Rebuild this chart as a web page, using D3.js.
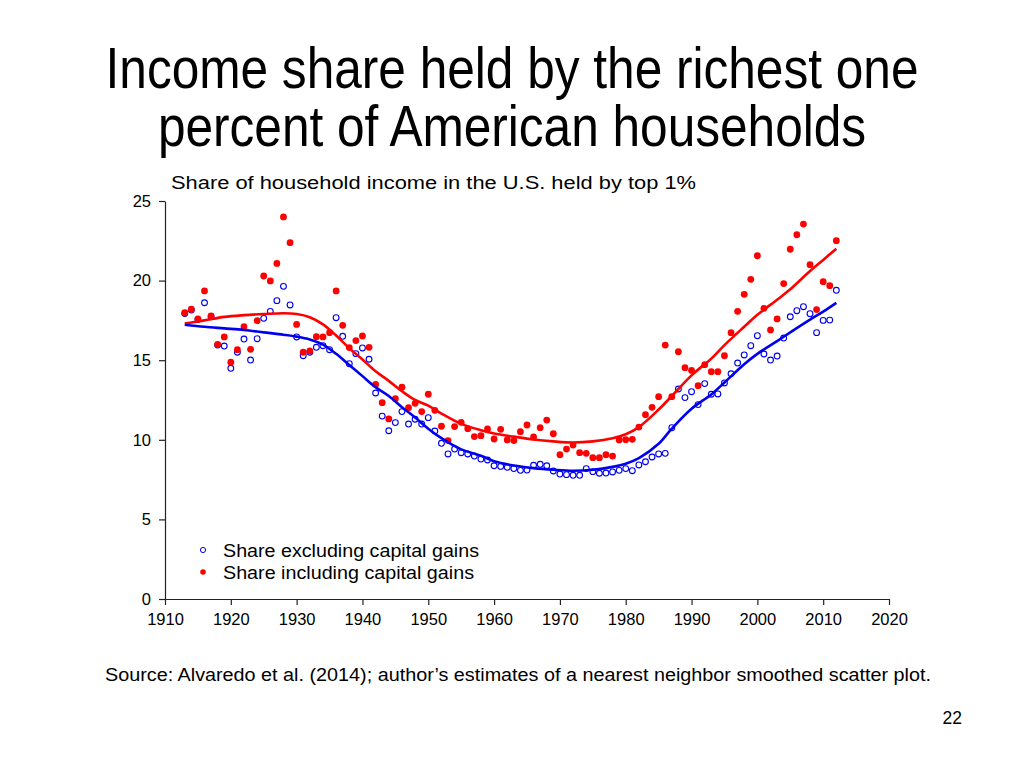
<!DOCTYPE html>
<html>
<head>
<meta charset="utf-8">
<script src="https://cdn.jsdelivr.net/npm/d3@7"></script>
<style>
  html, body { margin: 0; padding: 0; background: #fff; }
  svg { display: block; font-family: "Liberation Sans", Arial, Helvetica, sans-serif; }
</style>
</head>
<body>
<svg id="chart" width="1024" height="768"></svg>
<script>
// ---------- DATA ----------
const years = d3.range(1913, 2013);

const shareInclCapGains = [
  17.98, 18.2, 17.6, 19.35, 17.78, 16.0, 16.46, 14.87, 15.66, 17.1,
  15.68, 17.48, 20.29, 19.98, 21.08, 24.0, 22.38, 17.25, 15.5, 15.58,
  16.48, 16.46, 16.73, 19.35, 17.19, 15.79, 16.23, 16.52, 15.81, 13.48,
  12.33, 11.31, 12.58, 13.3, 12.02, 12.29, 11.77, 12.86, 11.85, 10.85,
  9.95, 10.83, 11.1, 10.7, 10.2, 10.26, 10.68, 10.05, 10.66, 9.99,
  9.95, 10.51, 10.93, 10.18, 10.76, 11.24, 10.38, 9.06, 9.42, 9.67,
  9.19, 9.15, 8.88, 8.88, 9.06, 8.98, 9.99, 10.01, 10.03, 10.8,
  11.58, 12.04, 12.71, 15.95, 12.71, 15.53, 14.53, 14.36, 13.4, 14.72,
  14.28, 14.28, 15.28, 16.73, 18.07, 19.14, 20.08, 21.56, 18.26, 16.9,
  17.59, 19.81, 21.97, 22.88, 23.55, 21.0, 18.18, 19.93, 19.68, 22.51
];

const shareExclCapGains = [
  17.93, 18.15, 17.55, 18.61, 17.73, 15.95, 15.89, 14.49, 15.5, 16.33,
  15.01, 16.35, 17.63, 18.07, 18.74, 19.64, 18.47, 16.46, 15.28, 15.5,
  15.81, 15.91, 15.66, 17.67, 16.5, 14.78, 15.41, 15.77, 15.06, 12.94,
  11.49, 10.57, 11.08, 11.77, 10.99, 11.29, 10.99, 11.39, 10.55, 9.78,
  9.11, 9.42, 9.19, 9.11, 8.98, 8.79, 8.73, 8.37, 8.33, 8.27,
  8.19, 8.08, 8.1, 8.4, 8.46, 8.37, 8.04, 7.85, 7.81, 7.77,
  7.77, 8.19, 8.0, 7.9, 7.91, 7.98, 8.08, 8.19, 8.06, 8.42,
  8.62, 8.92, 9.11, 9.15, 10.76, 13.19, 12.65, 13.02, 12.21, 13.53,
  12.86, 12.88, 13.57, 14.15, 14.82, 15.33, 15.91, 16.54, 15.39, 15.01,
  15.26, 16.39, 17.73, 18.11, 18.36, 17.92, 16.73, 17.5, 17.52, 19.39
];

// smoothed curves
const smoothYears = [1913, 1916, 1919, 1922, 1925, 1928, 1930, 1932, 1934, 1936,
  1938, 1940, 1942, 1944, 1946, 1948, 1950, 1952, 1955, 1958,
  1960, 1963, 1966, 1969, 1972, 1975, 1978, 1980, 1982, 1985,
  1987, 1990, 1993, 1995, 1998, 2000, 2003, 2005, 2008, 2010, 2012];

const smoothIncl = [17.3, 17.5, 17.72, 17.83, 17.9, 17.95, 17.9, 17.7, 17.25, 16.55,
  15.75, 15.05, 14.3, 13.7, 13.05, 12.5, 12.15, 11.65, 11.0, 10.6,
  10.4, 10.2, 10.02, 9.9, 9.83, 9.9, 10.1, 10.35, 10.8, 11.9,
  12.75, 14.05, 15.1, 15.95, 17.1, 17.85, 18.8, 19.45, 20.6, 21.3, 22.0];

const smoothExcl = [17.23, 17.1, 17.0, 16.9, 16.75, 16.6, 16.48, 16.3, 15.98, 15.4,
  14.7, 14.0, 13.3, 12.75, 12.05, 11.4, 10.7, 10.1, 9.4, 9.0,
  8.65, 8.38, 8.22, 8.12, 8.06, 8.12, 8.3, 8.5, 8.85, 9.75,
  10.7, 11.95, 12.85, 13.6, 14.75, 15.4, 16.2, 16.75, 17.55, 18.05, 18.6];

const yTicks = [0, 5, 10, 15, 20, 25];
const xTicks = [1910, 1920, 1930, 1940, 1950, 1960, 1970, 1980, 1990, 2000, 2010, 2020];

const titleLines = ["Income share held by the richest one", "percent of American households"];
const subtitle = "Share of household income in the U.S. held by top 1%";
const legendLabels = ["Share excluding capital gains", "Share including capital gains"];
const sourceText = "Source: Alvaredo et al. (2014); author\u2019s estimates of a nearest neighbor smoothed scatter plot.";
const pageNumber = "22";

// ---------- DRAW ----------
const svg = d3.select("#chart");
const RED = "#ff0000", BLUE = "#0000ee";

const x = d3.scaleLinear().domain([1910, 2020]).range([165, 889]);
const y = d3.scaleLinear().domain([0, 25]).range([599, 201]);

// Title (horizontally condensed like the original slide font)
const tg = svg.append("g").attr("transform", "translate(512,0) scale(0.87,1)");
tg.append("text").attr("x", 0).attr("y", 88).attr("text-anchor", "middle")
  .attr("font-size", 57).attr("fill", "#000").text(titleLines[0]);
tg.append("text").attr("x", 0).attr("y", 146).attr("text-anchor", "middle")
  .attr("font-size", 57).attr("fill", "#000").text(titleLines[1]);

// Subtitle
svg.append("text").attr("x", 171).attr("y", 189)
  .attr("font-size", 17.5).attr("textLength", 525).attr("lengthAdjust", "spacingAndGlyphs")
  .text(subtitle);

// Axes
const yAxis = d3.axisLeft(y).tickValues(yTicks).tickSize(6).tickSizeOuter(0).tickPadding(8);
const gy = svg.append("g").attr("transform", "translate(165,0)").call(yAxis);
gy.selectAll("text").attr("font-size", 16.5).attr("fill", "#000").style("font-family", "Liberation Sans, Arial, sans-serif");
gy.selectAll("line, path").attr("stroke", "#222").attr("stroke-width", 1.2);

const xAxis = d3.axisBottom(x).tickValues(xTicks).tickFormat(d3.format("d")).tickSize(6).tickSizeOuter(0).tickPadding(8);
const gx = svg.append("g").attr("transform", "translate(0,599)").call(xAxis);
gx.selectAll("text").attr("font-size", 16.5).attr("fill", "#000").style("font-family", "Liberation Sans, Arial, sans-serif");
gx.selectAll("line, path").attr("stroke", "#222").attr("stroke-width", 1.2);

// Points
const ptsExcl = years.map((yr, i) => ({ yr, v: shareExclCapGains[i] }));
const ptsIncl = years.map((yr, i) => ({ yr, v: shareInclCapGains[i] }));

svg.append("g").selectAll("circle").data(ptsExcl).join("circle")
  .attr("cx", d => x(d.yr)).attr("cy", d => y(d.v)).attr("r", 2.9)
  .attr("fill", "none").attr("stroke", BLUE).attr("stroke-width", 1.1);

svg.append("g").selectAll("circle").data(ptsIncl).join("circle")
  .attr("cx", d => x(d.yr)).attr("cy", d => y(d.v)).attr("r", 3.4)
  .attr("fill", RED);

// Smoothed lines
const line = d3.line().x(d => x(d[0])).y(d => y(d[1])).curve(d3.curveCatmullRom.alpha(0.5));
svg.append("path").datum(smoothYears.map((yr, i) => [yr, smoothIncl[i]]))
  .attr("d", line).attr("fill", "none").attr("stroke", RED).attr("stroke-width", 2.6);
svg.append("path").datum(smoothYears.map((yr, i) => [yr, smoothExcl[i]]))
  .attr("d", line).attr("fill", "none").attr("stroke", BLUE).attr("stroke-width", 2.6);

// Legend
const lg = svg.append("g");
lg.append("circle").attr("cx", 203).attr("cy", 550).attr("r", 2.6).attr("fill", "none").attr("stroke", BLUE).attr("stroke-width", 1);
lg.append("circle").attr("cx", 203).attr("cy", 572).attr("r", 2.8).attr("fill", RED);
lg.append("text").attr("x", 223).attr("y", 557).attr("font-size", 17.5)
  .attr("textLength", 256).attr("lengthAdjust", "spacingAndGlyphs").text(legendLabels[0]);
lg.append("text").attr("x", 223).attr("y", 579).attr("font-size", 17.5)
  .attr("textLength", 251).attr("lengthAdjust", "spacingAndGlyphs").text(legendLabels[1]);

// Source
svg.append("text").attr("x", 105).attr("y", 681).attr("font-size", 17.5)
  .attr("textLength", 826).attr("lengthAdjust", "spacingAndGlyphs").text(sourceText);

// Page number
svg.append("text").attr("x", 962).attr("y", 724).attr("text-anchor", "end")
  .attr("font-size", 17.5).text(pageNumber);
</script>
</body>
</html>
